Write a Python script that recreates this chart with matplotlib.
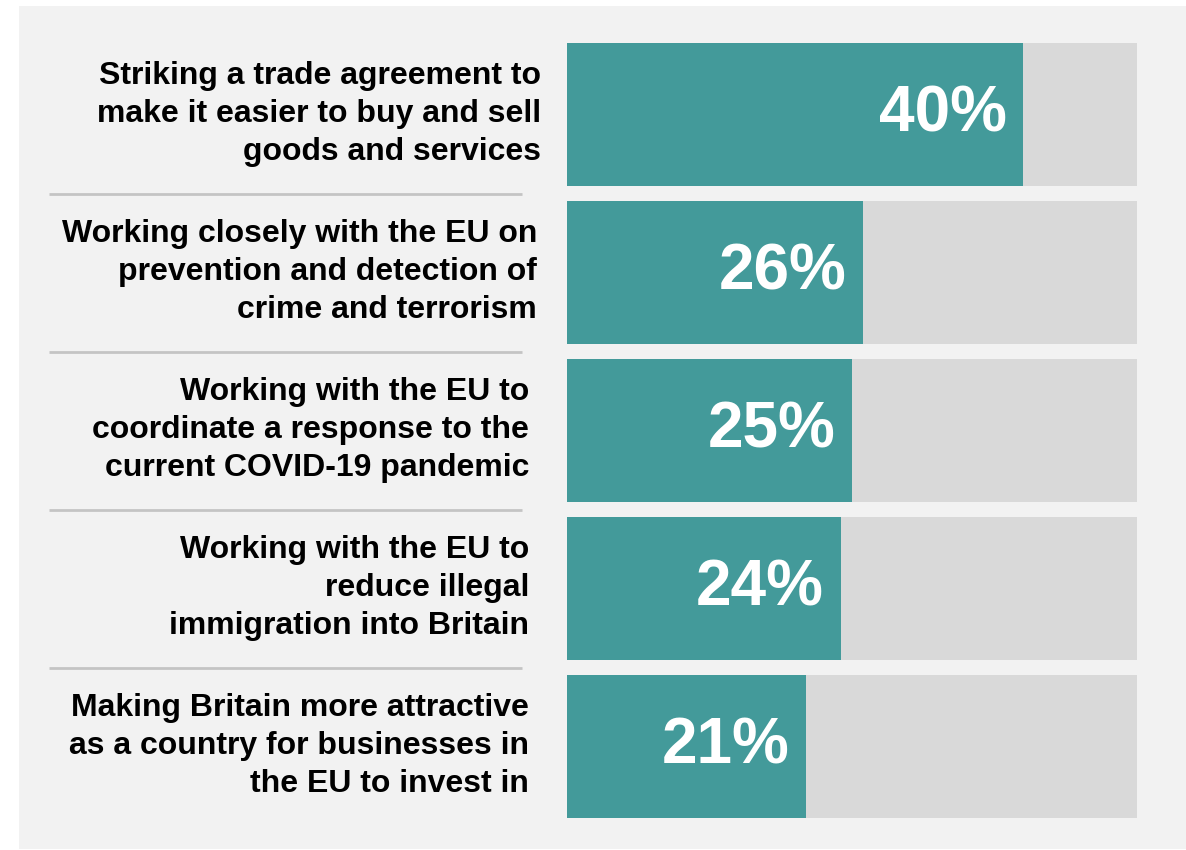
import matplotlib
matplotlib.use("Agg")
import matplotlib.pyplot as plt
import matplotlib.transforms as mtransforms
from matplotlib.patches import Rectangle

plt.rcParams["font.family"] = ["Liberation Sans", "DejaVu Sans"]

# data
labels = [
    "Striking a trade agreement to\nmake it easier to buy and sell\ngoods and services",
    "Working closely with the EU on\nprevention and detection of\ncrime and terrorism",
    "Working with the EU to\ncoordinate a response to the\ncurrent COVID-19 pandemic",
    "Working with the EU to\nreduce illegal\nimmigration into Britain",
    "Making Britain more attractive\nas a country for businesses in\nthe EU to invest in",
]
values = [40, 26, 25, 24, 21]
scale_max = 50

TEAL = "#439a9a"
TRACK = "#d9d9d9"
PANEL = "#f2f2f2"
SEP = "#c4c4c4"

W, H = 1186, 850
fig = plt.figure(figsize=(W / 100, H / 100), dpi=100)
fig.patch.set_facecolor("white")
# grey panel behind everything
fig.patches.append(Rectangle((19 / W, 1 - 849 / H), (W - 19) / W, 843 / H,
                             transform=fig.transFigure, facecolor=PANEL,
                             edgecolor="none", zorder=-5))

ax = fig.add_axes([567 / W, 1 - 818 / H, 570 / W, 775 / H])
ax.set_facecolor("none")
bh = 143 / 158
n = len(values)
ys = list(range(n))
ax.barh(ys, [scale_max] * n, height=bh, color=TRACK, zorder=1)
ax.barh(ys, values, height=bh, color=TEAL, zorder=2)
ax.set_xlim(0, scale_max)
ax.set_ylim(n - 1 + bh / 2, -bh / 2)
ax.axis("off")

for y, v in zip(ys, values):
    ax.text(v - 1.45, y, f"{v}%", ha="right", va="center", color="white",
            fontsize=46, fontweight="bold", zorder=3)

# category labels, right aligned left of the bars
label_right = [541, 537, 529, 529, 529]  # px
blend = mtransforms.blended_transform_factory(fig.transFigure, ax.transData)
for y, lab, xr in zip(ys, labels, label_right):
    ax.text(xr / W, y - 0.005, lab, transform=blend, ha="right", va="center",
            multialignment="right", fontsize=23, fontweight="bold",
            color="black", linespacing=1.34, clip_on=False)

for y in ys[:-1]:
    ax.plot([49 / W, 522 / W], [y + 0.5, y + 0.5], transform=blend,
            color=SEP, lw=2, clip_on=False, solid_capstyle="butt")

fig.savefig("out.png", dpi=100, facecolor=fig.get_facecolor())
